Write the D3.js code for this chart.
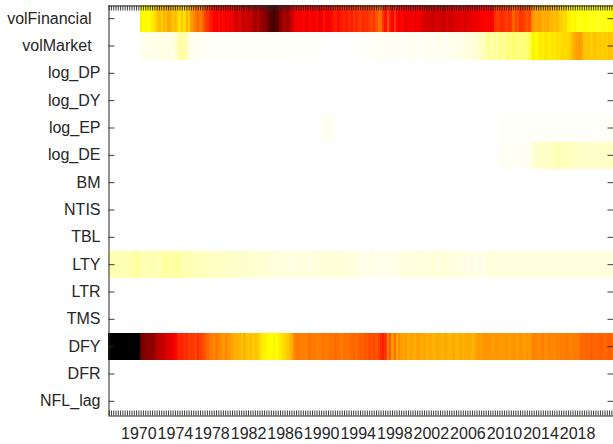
<!DOCTYPE html>
<html>
<head>
<meta charset="utf-8">
<script src="https://cdn.jsdelivr.net/npm/d3@7"></script>
<style>
  body { margin: 0; background: #fff; }
  svg { display: block; }
  text { font-family: "Liberation Sans", Arial, sans-serif; font-size: 16px; fill: #262626; }
</style>
</head>
<body>
<svg width="613" height="444"></svg>
<script>
// row names (top to bottom), two trailing (non-breaking) spaces on the first two as in the original
var rowNames = ["volFinancial\u00a0\u00a0", "volMarket\u00a0\u00a0", "log_DP", "log_DY", "log_EP", "log_DE", "BM", "NTIS",
  "TBL", "LTY", "LTR", "TMS", "DFY", "DFR", "NFL_lag"];

// quarterly columns, 1966Q4 .. 2021Q4
var firstYear = 1966, firstQuarter = 4, nCols = 221;
var tickYears = [1970, 1974, 1978, 1982, 1986, 1990, 1994, 1998, 2002, 2006, 2010, 2014, 2018];

// values per row, one per quarter (null = missing)
var volFinancial = [
  null,
  null,null,null,null, null,null,null,null, null,null,null,null,
  null,0.27,0.25,0.26, 0.24,0.26,0.28,0.30, 0.33,0.35,0.32,0.36, 0.34,0.38,0.36,0.33, 0.35,0.31,0.29,0.33,
  0.30,0.36,0.32,0.40, 0.42,0.45,0.47,0.44, 0.48,0.52,0.55,0.58, 0.60,0.62,0.63,0.61, 0.64,0.62,0.65,0.63,
  0.66,0.64,0.68,0.70, 0.66,0.70,0.72,0.68, 0.72,0.70,0.74,0.76, 0.73,0.76,0.78,0.80, 0.82,0.85,0.88,0.90,
  0.88,0.86,0.80,0.76, 0.74,0.78,0.72,0.70, 0.66,0.64,0.63,0.65, 0.62,0.66,0.64,0.62, 0.65,0.63,0.62,0.66,
  0.63,0.60,0.62,0.64, 0.62,0.60,0.58,0.61, 0.60,0.58,0.57,0.59, 0.56,0.58,0.55,0.57, 0.56,0.54,0.57,0.55,
  0.56,0.54,0.52,0.55, 0.50,0.47,0.46,0.55, 0.60,0.50,0.58,0.62, 0.55,0.62,0.64,0.62, 0.64,0.66,0.64,0.65,
  0.63,0.66,0.64,0.65, 0.66,0.68,0.70,0.68, 0.69,0.70,0.68,0.70, 0.69,0.71,0.70,0.68, 0.69,0.70,0.68,0.67,
  0.68,0.66,0.67,0.68, 0.66,0.67,0.65,0.66, 0.64,0.65,0.63,0.64, 0.62,0.63,0.64,0.62, 0.56,0.54,0.55,0.57,
  0.55,0.53,0.56,0.54, 0.48,0.52,0.50,0.55, 0.54,0.52,0.50,0.52, 0.42,0.40,0.38,0.40, 0.38,0.36,0.37,0.38,
  0.36,0.35,0.34,0.36, 0.33,0.32,0.30,0.31, 0.27,0.26,0.25,0.27, 0.24,0.22,0.23,0.25, 0.24,0.23,0.22,0.24,
  0.23,0.21,0.22,0.24, 0.23,0.22,0.24,0.26
];
var volMarket = [
  null,
  null,null,null,null, null,null,null,null, null,null,null,null,
  null,0.015,0.015,0.02, 0.02,0.025,0.02,0.025, 0.025,0.02,0.03,0.025, 0.02,0.025,0.02,0.03, 0.04,0.07,0.10,0.08,
  0.09,0.06,0.03,0.02, 0.01,0.01,0.015,0.01, 0.01,0.005,0.01,0.005, 0.005,0.005,0.01,0.005, 0.005,0.005,0.005,0.005,
  0.005,0.01,0.005,0.005, 0.005,0.005,0.005,0.01, 0.005,0.005,0.005,0.005, 0.01,0.005,0.005,0.005, 0.005,0.005,0.005,0.005,
  0.005,0.005,0.01,0.005, 0.005,0.005,0.005,0.005, 0.005,0.005,0.005,0.005, 0.005,0.005,0.005,0.005, 0.005,0.005,0.005,0.005,
  0,0,0.005,0, 0,0,0,0, 0,0,0,0.005, 0,0,0,0, 0.005,0.005,0.005,0.005,
  0.01,0.01,0.005,0.01, 0.01,0.01,0.015,0.01, 0.01,0.015,0.01,0.01, 0.01,0.01,0.015,0.01, 0.01,0.01,0.01,0.015,
  0.01,0.015,0.01,0.01, 0.01,0.01,0.015,0.01, 0.015,0.01,0.015,0.015, 0.015,0.015,0.01,0.015, 0.015,0.02,0.015,0.02,
  0.02,0.03,0.02,0.03, 0.03,0.04,0.03,0.04, 0.04,0.05,0.06,0.07, 0.08,0.10,0.09,0.08, 0.11,0.09,0.13,0.10,
  0.10,0.12,0.14,0.11, 0.15,0.13,0.11,0.14, 0.12,0.14,0.13,0.16, 0.26,0.27,0.25,0.28, 0.28,0.27,0.29,0.28,
  0.27,0.29,0.28,0.30, 0.29,0.30,0.31,0.30, 0.31,0.33,0.36,0.38, 0.39,0.40,0.38,0.34, 0.33,0.34,0.32,0.33,
  0.34,0.32,0.33,0.32, 0.33,0.32,0.34,0.33
];
var logDP = [
  0,
  0,0,0,0, 0,0,0,0, 0,0,0,0,
  0,0,0,0, 0,0,0,0, 0,0,0,0, 0,0,0,0, 0,0,0,0,
  0,0,0,0, 0,0,0,0, 0,0,0,0, 0,0,0,0, 0,0,0,0,
  0,0,0,0, 0,0,0,0, 0,0,0,0, 0,0,0,0, 0,0,0,0,
  0,0,0,0, 0,0,0,0, 0,0,0,0, 0,0,0,0, 0,0,0,0,
  0,0,0,0, 0,0,0,0, 0,0,0,0, 0,0,0,0, 0,0,0,0,
  0,0,0,0, 0,0,0,0, 0,0,0,0, 0,0,0,0, 0,0,0,0,
  0,0,0,0, 0,0,0,0, 0,0,0,0, 0,0,0,0, 0,0,0,0,
  0,0,0,0, 0,0,0,0, 0,0,0,0, 0,0,0,0, 0,0,0,0,
  0,0,0,0, 0,0,0,0, 0,0,0,0, 0,0,0,0, 0,0,0,0,
  0,0,0,0, 0,0,0,0, 0,0,0,0, 0,0,0,0, 0,0,0,0,
  0,0,0,0, 0,0,0,0
];
var logDY = logDP.slice();
var logEP = [
  0,
  0,0,0,0, 0,0,0,0, 0,0,0,0,
  0,0,0,0, 0,0,0,0, 0,0,0,0, 0,0,0,0, 0,0,0,0,
  0,0,0,0, 0,0,0,0, 0,0,0,0, 0,0,0,0, 0,0,0,0,
  0,0,0,0, 0,0,0,0, 0,0,0,0, 0,0,0,0, 0,0,0,0,
  0,0,0,0, 0,0,0,0, 0,0,0,0, 0,0,0,0, 0,0,0,0,
  0,0.015,0.02,0.015, 0.015,0.01,0,0, 0,0,0,0, 0,0,0,0, 0,0,0,0,
  0,0,0,0, 0,0,0,0, 0,0,0,0, 0,0,0,0, 0,0,0,0,
  0,0,0,0, 0,0,0,0, 0,0,0,0, 0,0,0,0, 0,0,0,0,
  0,0,0,0, 0,0,0,0, 0,0,0,0, 0,0,0,0, 0,0,0.005,0.005,
  0.005,0.005,0.005,0.005, 0.005,0.005,0.005,0.005, 0.005,0.005,0.005,0.005, 0.005,0.005,0.005,0.005, 0.005,0.005,0.005,0.005,
  0.005,0.005,0.005,0.005, 0.005,0.005,0.005,0.005, 0.005,0.005,0.005,0.005, 0.005,0.005,0.005,0.005, 0.005,0.005,0.005,0.005,
  0.005,0.005,0.005,0.005, 0.005,0.005,0.01,0.01
];
var logDE = [
  0,
  0,0,0,0, 0,0,0,0, 0,0,0,0,
  0,0,0,0, 0,0,0,0, 0,0,0,0, 0,0,0,0, 0,0,0,0,
  0,0,0,0, 0,0,0,0, 0,0,0,0, 0,0,0,0, 0,0,0,0,
  0,0,0,0, 0,0,0,0, 0,0,0,0, 0,0,0,0, 0,0,0,0,
  0,0,0,0, 0,0,0,0, 0,0,0,0, 0,0,0,0, 0,0,0,0,
  0,0,0,0, 0,0,0,0, 0,0,0,0, 0,0,0,0, 0,0,0,0,
  0,0,0,0, 0,0,0,0, 0,0,0,0, 0,0,0,0, 0,0,0,0,
  0,0,0,0, 0,0,0,0, 0,0,0,0, 0,0,0,0, 0,0,0,0,
  0,0,0,0, 0,0,0,0, 0,0,0,0, 0,0,0,0, 0,0,0.01,0.01,
  0.01,0.01,0.01,0.01, 0.01,0.01,0.01,0.01, 0.01,0.01,0.015,0.015, 0.04,0.04,0.05,0.05, 0.05,0.06,0.05,0.06,
  0.06,0.06,0.07,0.07, 0.07,0.07,0.06,0.07, 0.06,0.06,0.06,0.06, 0.05,0.06,0.05,0.05, 0.05,0.06,0.05,0.05,
  0.05,0.05,0.05,0.05, 0.05,0.06,0.05,0.06
];
var BM = logDP.slice();
var NTIS = logDP.slice();
var TBL = logDP.slice();
var LTY = [
  0.07,
  0.07,0.07,0.08,0.07, 0.07,0.08,0.07,0.08, 0.08,0.07,0.09,0.10,
  0.09,0.08,0.07,0.08, 0.07,0.08,0.08,0.07, 0.07,0.07,0.08,0.09, 0.10,0.09,0.08,0.09, 0.09,0.10,0.09,0.08,
  0.08,0.07,0.08,0.07, 0.07,0.07,0.06,0.07, 0.06,0.07,0.06,0.06, 0.06,0.05,0.06,0.06, 0.05,0.06,0.05,0.05,
  0.05,0.05,0.06,0.05, 0.05,0.04,0.05,0.05, 0.04,0.05,0.04,0.04, 0.04,0.04,0.05,0.04, 0.04,0.04,0.03,0.04,
  0.03,0.04,0.03,0.03, 0.03,0.03,0.03,0.02, 0.03,0.03,0.03,0.03, 0.03,0.03,0.02,0.03, 0.03,0.04,0.03,0.03,
  0.04,0.03,0.04,0.04, 0.04,0.03,0.04,0.04, 0.03,0.04,0.03,0.03, 0.03,0.03,0.03,0.03, 0.02,0.03,0.02,0.02,
  0.02,0.02,0.03,0.02, 0.02,0.02,0.02,0.02, 0.02,0.02,0.02,0.02, 0.02,0.03,0.02,0.03, 0.03,0.03,0.03,0.03,
  0.03,0.03,0.03,0.04, 0.03,0.03,0.03,0.03, 0.03,0.04,0.03,0.03, 0.03,0.04,0.04,0.03, 0.03,0.03,0.03,0.03,
  0.03,0.02,0.03,0.03, 0.02,0.02,0.03,0.02, 0.02,0.03,0.02,0.02, 0.03,0.03,0.04,0.03, 0.03,0.03,0.03,0.03,
  0.03,0.03,0.03,0.03, 0.03,0.03,0.03,0.03, 0.03,0.03,0.03,0.03, 0.03,0.03,0.03,0.03, 0.03,0.03,0.03,0.03,
  0.03,0.03,0.03,0.03, 0.03,0.03,0.03,0.03, 0.03,0.03,0.03,0.03, 0.03,0.03,0.03,0.03, 0.03,0.03,0.03,0.03,
  0.03,0.03,0.03,0.03, 0.03,0.03,0.03,0.03
];
var LTR = logDP.slice();
var TMS = logDP.slice();
var DFY = [
  1,
  1,1,1,1, 1,1,1,1, 1,1,1,1,
  1,0.85,0.82,0.80, 0.80,0.78,0.80,0.76, 0.74,0.72,0.70,0.72, 0.68,0.66,0.67,0.65, 0.62,0.58,0.56,0.58,
  0.55,0.57,0.53,0.55, 0.54,0.52,0.56,0.53, 0.52,0.50,0.47,0.45, 0.44,0.42,0.45,0.43, 0.42,0.40,0.43,0.41,
  0.40,0.38,0.36,0.37, 0.36,0.34,0.37,0.35, 0.33,0.35,0.32,0.34, 0.33,0.30,0.28,0.27, 0.26,0.25,0.25,0.27,
  0.25,0.26,0.28,0.30, 0.31,0.33,0.35,0.37, 0.42,0.44,0.45,0.43, 0.44,0.43,0.45,0.46, 0.44,0.45,0.43,0.44,
  0.45,0.46,0.44,0.45, 0.46,0.45,0.47,0.46, 0.45,0.44,0.46,0.45, 0.46,0.47,0.48,0.46, 0.47,0.49,0.48,0.50,
  0.49,0.51,0.50,0.52, 0.50,0.53,0.56,0.58, 0.55,0.44,0.50,0.40, 0.46,0.38,0.42,0.39, 0.38,0.40,0.37,0.39,
  0.38,0.37,0.39,0.38, 0.37,0.38,0.36,0.37, 0.38,0.36,0.37,0.38, 0.37,0.36,0.38,0.37, 0.36,0.37,0.38,0.36,
  0.37,0.38,0.36,0.37, 0.38,0.37,0.36,0.38, 0.39,0.40,0.39,0.41, 0.40,0.41,0.40,0.39, 0.40,0.41,0.39,0.40,
  0.40,0.41,0.39,0.40, 0.41,0.40,0.39,0.41, 0.40,0.39,0.41,0.40, 0.42,0.44,0.43,0.42, 0.43,0.44,0.42,0.43,
  0.44,0.43,0.42,0.44, 0.43,0.44,0.43,0.45, 0.44,0.43,0.44,0.45, 0.44,0.46,0.48,0.47, 0.48,0.47,0.49,0.48,
  0.47,0.48,0.49,0.48, 0.47,0.48,0.49,0.47
];
var DFR = logDP.slice();
var NFLlag = logDP.slice();

var rowValues = [volFinancial, volMarket, logDP, logDY, logEP, logDE, BM, NTIS,
  TBL, LTY, LTR, TMS, DFY, DFR, NFLlag];

var svg = d3.select("svg");
var plotLeft = 108, plotRight = 613, plotTop = 5, plotBottom = 415;

var cols = d3.range(nCols).map(function(i) {
  var q = firstQuarter - 1 + i;
  return { year: firstYear + Math.floor(q / 4), quarter: q % 4 + 1, key: i };
});

var x = d3.scaleBand().domain(cols.map(function(c) { return c.key; })).range([plotLeft, plotRight]);
var y = d3.scaleBand().domain(rowNames).range([plotTop, plotBottom]);

// flipped "hot" colormap: 0 white -> yellow -> red -> 1 black
var color = d3.scaleLinear()
  .domain([0, 0.25, 0.625, 1])
  .range(["#ffffff", "#ffff00", "#ff0000", "#000000"])
  .clamp(true);

var cells = [];
rowNames.forEach(function(name, r) {
  rowValues[r].forEach(function(v, i) {
    if (v !== null) cells.push({ row: name, col: i, v: v });
  });
});

svg.append("g")
  .attr("shape-rendering", "crispEdges")
  .selectAll("rect")
  .data(cells)
  .join("rect")
  .attr("x", function(d) { return x(d.col); })
  .attr("y", function(d) { return y(d.row); })
  .attr("width", x.bandwidth())
  .attr("height", y.bandwidth())
  .attr("fill", function(d) { return color(d.v); });

function yearLabel(i) {
  var c = cols[i];
  return (c.quarter === 1 && tickYears.indexOf(c.year) >= 0) ? String(c.year) : "";
}

var axisColor = "#262626";

var gBottom = svg.append("g")
  .attr("transform", "translate(0," + (plotBottom + 0.5) + ")")
  .call(d3.axisBottom(x).tickSizeInner(-5).tickSizeOuter(0).tickPadding(12).tickFormat(yearLabel));

var gTop = svg.append("g")
  .attr("transform", "translate(0," + (plotTop + 0.5) + ")")
  .call(d3.axisTop(x).tickSizeInner(-5).tickSizeOuter(0).tickFormat(""));

var gLeft = svg.append("g")
  .attr("transform", "translate(" + (plotLeft + 0.5) + ",0)")
  .call(d3.axisLeft(y).tickSizeInner(-6).tickSizeOuter(0).tickPadding(8));

var gRight = svg.append("g")
  .attr("transform", "translate(" + (plotRight + 0.5) + ",0)")
  .call(d3.axisRight(y).tickSizeInner(-6).tickSizeOuter(0).tickFormat(""));

[gBottom, gTop, gLeft, gRight].forEach(function(g) {
  g.selectAll("path.domain").attr("stroke", axisColor);
  g.selectAll(".tick line").attr("stroke", axisColor).attr("stroke-width", 0.9);
  g.selectAll(".tick text").attr("fill", axisColor)
    .style("font-family", "'Liberation Sans', Arial, sans-serif").style("font-size", "16px");
});
</script>
</body>
</html>
